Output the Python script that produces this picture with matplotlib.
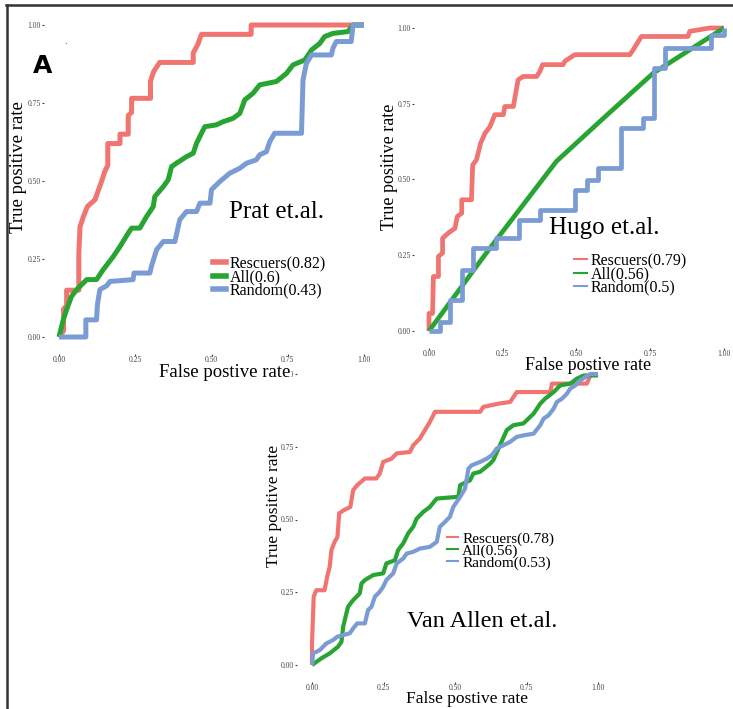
import matplotlib.pyplot as plt
from matplotlib.lines import Line2D

# ---- Prat et.al. ----
prat_resc_x = [0, 0.015, 0.015, 0.025, 0.025, 0.065, 0.065, 0.069, 0.08, 0.093, 0.118, 0.14, 0.15, 0.16, 0.16, 0.20,
               0.20, 0.227, 0.227, 0.238, 0.238, 0.30, 0.30, 0.31, 0.33, 0.44, 0.44, 0.456, 0.467, 0.63, 0.63, 1.0]
prat_resc_y = [0, 0.02, 0.09, 0.10, 0.15, 0.15, 0.27, 0.354, 0.386, 0.418, 0.44, 0.50, 0.53, 0.55, 0.62, 0.62,
               0.65, 0.65, 0.71, 0.72, 0.765, 0.765, 0.82, 0.85, 0.88, 0.88, 0.91, 0.94, 0.97, 0.97, 1.0, 1.0]
prat_all_x = [0, 0.014, 0.025, 0.041, 0.058, 0.091, 0.123, 0.145, 0.178, 0.20, 0.227, 0.238, 0.265, 0.287, 0.309,
              0.314, 0.342, 0.358, 0.369, 0.385, 0.418, 0.44, 0.451, 0.467, 0.478, 0.516, 0.538, 0.571, 0.593, 0.609,
              0.636, 0.658, 0.713, 0.746, 0.767, 0.806, 0.828, 0.855, 0.871, 0.898, 0.948, 0.964, 1.0]
prat_all_y = [0, 0.055, 0.088, 0.13, 0.152, 0.184, 0.184, 0.216, 0.258, 0.29, 0.333, 0.349, 0.349, 0.386, 0.418,
              0.45, 0.482, 0.504, 0.546, 0.557, 0.578, 0.589, 0.621, 0.653, 0.674, 0.68, 0.69, 0.701, 0.717, 0.76,
              0.781, 0.808, 0.819, 0.845, 0.872, 0.888, 0.92, 0.941, 0.963, 0.973, 0.979, 1.0, 1.0]
prat_rand_x = [0, 0.088, 0.088, 0.123, 0.126, 0.134, 0.156, 0.167, 0.243, 0.246, 0.298, 0.303, 0.32, 0.342, 0.38,
               0.396, 0.418, 0.451, 0.462, 0.495, 0.50, 0.527, 0.56, 0.593, 0.615, 0.647, 0.658, 0.68, 0.691, 0.707,
               0.795, 0.80, 0.811, 0.828, 0.893, 0.898, 0.909, 0.958, 0.964, 1.0]
prat_rand_y = [0, 0, 0.055, 0.055, 0.104, 0.152, 0.164, 0.178, 0.184, 0.205, 0.205, 0.226, 0.28, 0.306, 0.306,
               0.376, 0.402, 0.402, 0.429, 0.429, 0.472, 0.498, 0.525, 0.541, 0.557, 0.568, 0.584, 0.594, 0.626, 0.653,
               0.653, 0.824, 0.877, 0.904, 0.904, 0.925, 0.947, 0.947, 1.0, 1.0]

# ---- Hugo et.al. ----
hugo_resc_x = [0, 0, 0.012, 0.015, 0.032, 0.032, 0.046, 0.046, 0.065, 0.088, 0.096, 0.111, 0.111, 0.144, 0.148,
               0.161, 0.175, 0.19, 0.207, 0.223, 0.252, 0.257, 0.286, 0.291, 0.302, 0.319, 0.365, 0.376, 0.385, 0.455,
               0.46, 0.494, 0.681, 0.692, 0.72, 0.878, 0.884, 0.951, 1.0]
hugo_resc_y = [0, 0.058, 0.058, 0.18, 0.18, 0.246, 0.257, 0.306, 0.323, 0.339, 0.378, 0.389, 0.433, 0.433, 0.548,
               0.565, 0.62, 0.653, 0.675, 0.714, 0.714, 0.741, 0.741, 0.769, 0.829, 0.84, 0.84, 0.857, 0.879, 0.879,
               0.89, 0.912, 0.912, 0.928, 0.972, 0.972, 0.989, 1.0, 1.0]
hugo_all_x = [0, 0.2, 0.432, 0.6, 0.76, 1.0]
hugo_all_y = [0, 0.265, 0.56, 0.71, 0.851, 1.0]
hugo_rand_x = [0, 0.037, 0.037, 0.071, 0.071, 0.111, 0.111, 0.15, 0.15, 0.227, 0.227, 0.306, 0.306, 0.376, 0.376,
               0.494, 0.494, 0.534, 0.534, 0.573, 0.573, 0.652, 0.652, 0.726, 0.726, 0.762, 0.762, 0.799, 0.799,
               0.957, 0.957, 1.0, 1.0]
hugo_rand_y = [0, 0, 0.031, 0.031, 0.102, 0.102, 0.2, 0.2, 0.273, 0.273, 0.306, 0.306, 0.367, 0.367, 0.4, 0.4,
               0.466, 0.466, 0.499, 0.499, 0.537, 0.537, 0.67, 0.67, 0.703, 0.703, 0.868, 0.868, 0.934, 0.934, 0.978,
               0.978, 1.0]

# ---- Van Allen et.al. ----
van_resc_x = [0, 0, 0.006, 0.015, 0.044, 0.053, 0.062, 0.068, 0.079, 0.089, 0.095, 0.111, 0.134, 0.144, 0.158,
              0.185, 0.225, 0.237, 0.249, 0.278, 0.296, 0.342, 0.354, 0.377, 0.391, 0.412, 0.43, 0.588, 0.599, 0.652,
              0.693, 0.716, 0.833, 0.839, 0.961, 0.973, 1.0]
van_resc_y = [0, 0.074, 0.235, 0.257, 0.257, 0.303, 0.338, 0.395, 0.423, 0.44, 0.521, 0.532, 0.543, 0.601, 0.618,
              0.641, 0.641, 0.658, 0.698, 0.709, 0.727, 0.732, 0.755, 0.778, 0.801, 0.835, 0.87, 0.87, 0.887, 0.898,
              0.904, 0.938, 0.938, 0.967, 0.967, 0.995, 1.0]
van_all_x = [0, 0.033, 0.062, 0.091, 0.103, 0.109, 0.126, 0.144, 0.167, 0.173, 0.185, 0.214, 0.249, 0.26, 0.29,
             0.301, 0.319, 0.336, 0.354, 0.366, 0.389, 0.412, 0.436, 0.512, 0.518, 0.553, 0.564, 0.588, 0.623, 0.634,
             0.681, 0.704, 0.739, 0.775, 0.798, 0.815, 0.845, 0.868, 0.903, 0.926, 0.95, 1.0]
van_all_y = [0, 0.023, 0.04, 0.063, 0.08, 0.132, 0.2, 0.223, 0.246, 0.28, 0.292, 0.309, 0.315, 0.349, 0.36, 0.395,
             0.418, 0.452, 0.475, 0.503, 0.526, 0.543, 0.572, 0.578, 0.618, 0.635, 0.658, 0.664, 0.692, 0.704, 0.807,
             0.824, 0.83, 0.864, 0.898, 0.915, 0.938, 0.961, 0.967, 0.984, 0.995, 0.995]
van_rand_x = [0, 0.004, 0.027, 0.05, 0.074, 0.088, 0.132, 0.144, 0.158, 0.185, 0.196, 0.208, 0.22, 0.237, 0.249,
              0.26, 0.284, 0.296, 0.319, 0.331, 0.354, 0.377, 0.412, 0.436, 0.447, 0.459, 0.482, 0.494, 0.518, 0.535,
              0.547, 0.558, 0.588, 0.611, 0.629, 0.646, 0.669, 0.693, 0.716, 0.739, 0.775, 0.798, 0.81, 0.827, 0.845,
              0.856, 0.874, 0.891, 0.903, 0.921, 0.938, 0.956, 0.973, 1.0]
van_rand_y = [0, 0.04, 0.051, 0.074, 0.086, 0.097, 0.109, 0.126, 0.143, 0.143, 0.189, 0.2, 0.235, 0.252, 0.269,
              0.292, 0.315, 0.349, 0.366, 0.383, 0.389, 0.4, 0.406, 0.423, 0.475, 0.486, 0.509, 0.543, 0.578, 0.606,
              0.675, 0.686, 0.698, 0.709, 0.721, 0.744, 0.755, 0.767, 0.784, 0.789, 0.795, 0.824, 0.847, 0.858, 0.881,
              0.904, 0.915, 0.932, 0.95, 0.961, 0.978, 0.99, 1.0, 1.0]

ticks = [0, 0.25, 0.5, 0.75, 1.0]
tick_labels = ["0.00", "0.25", "0.50", "0.75", "1.00"]
series_names = ["Rescuers", "All", "Random"]
prat_auc = ["0.82", "0.6", "0.43"]
hugo_auc = ["0.79", "0.56", "0.5"]
van_auc = ["0.78", "0.56", "0.53"]

RED = "#F07470"
GREEN = "#27A432"
BLUE = "#7B9BD4"
SERIF = "Liberation Serif"

W, H = 733, 709
fig = plt.figure(figsize=(W / 100, H / 100), dpi=100)


def make_axes(left, top, right, bottom):
    return fig.add_axes([left / W, 1 - bottom / H, (right - left) / W, (bottom - top) / H])


def style(ax, labsize, xlab_pos, ylab_pos):
    ax.set_xlim(0, 1)
    ax.set_ylim(0, 1)
    ax.patch.set_alpha(0)
    for s in ax.spines.values():
        s.set_visible(False)
    ax.spines['left'].set_position(('outward', 11))
    ax.spines['bottom'].set_position(('outward', 12))
    ax.set_xticks(ticks)
    ax.set_yticks(ticks)
    ax.set_xticklabels(tick_labels, fontfamily=SERIF)
    ax.set_yticklabels(tick_labels, fontfamily=SERIF)
    ax.tick_params(length=1.5, width=0.8, pad=0.5, labelsize=5.5, colors="#444444")
    ax.set_xlabel("False postive rate", fontfamily=SERIF, fontsize=labsize)
    ax.set_ylabel("True positive rate", fontfamily=SERIF, fontsize=labsize)
    ax.xaxis.set_label_coords(*xlab_pos)
    ax.yaxis.set_label_coords(*ylab_pos)


def draw(ax, xs, ys, lw):
    for x, y, c in zip(xs, ys, [RED, GREEN, BLUE]):
        ax.plot(x, y, color=c, lw=lw, clip_on=False, solid_capstyle='butt')


def legend(ax, auc, x, y, size, hlw, hl, spacing):
    handles = [Line2D([], [], color=c, lw=hlw) for c in [RED, GREEN, BLUE]]
    labels = [n + "(" + a + ")" for n, a in zip(series_names, auc)]
    ax.legend(handles, labels, loc="upper left", bbox_to_anchor=(x / W, 1 - y / H),
              bbox_transform=fig.transFigure, frameon=False, borderpad=0, borderaxespad=0,
              handlelength=hl, handletextpad=0.25, labelspacing=spacing,
              prop={'family': SERIF, 'size': size})


################################################################################
# Prat et.al.
ax1 = make_axes(59, 25, 364, 337)
ax1.set_zorder(3)
style(ax1, 13.5, (0.544, -0.087), (-0.105, 0.545))
draw(ax1, [prat_resc_x, prat_all_x, prat_rand_x], [prat_resc_y, prat_all_y, prat_rand_y], 3.6)
ax1.xaxis.label.set_bbox(dict(facecolor="white", edgecolor="none", pad=0))
ax1.text(0.557, 0.381, "Prat et.al.", transform=ax1.transAxes, fontfamily=SERIF, fontsize=18)
legend(ax1, prat_auc, 213, 256, 11.5, 4, 0.8, -0.17)

################################################################################
# Hugo et.al.
ax2 = make_axes(429, 28, 724, 331)
ax2.set_zorder(2)
style(ax2, 13, (0.539, -0.087), (-0.105, 0.541))
draw(ax2, [hugo_resc_x, hugo_all_x, hugo_rand_x], [hugo_resc_y, hugo_all_y, hugo_rand_y], 3.4)
ax2.text(0.407, 0.32, "Hugo et.al.", transform=ax2.transAxes, fontfamily=SERIF, fontsize=18)
legend(ax2, hugo_auc, 574, 253, 11.5, 1.5, 0.8, -0.17)

################################################################################
# Van Allen et.al.
ax3 = make_axes(312, 374, 598, 665)
ax3.set_zorder(1)
style(ax3, 12.5, (0.542, -0.089), (-0.105, 0.546))
draw(ax3, [van_resc_x, van_all_x, van_rand_x], [van_resc_y, van_all_y, van_rand_y], 3.0)
ax3.text(0.332, 0.13, "Van Allen et.al.", transform=ax3.transAxes, fontfamily=SERIF, fontsize=17.5)
legend(ax3, van_auc, 447, 532, 11, 1.5, 0.75, -0.12)

# panel letter, stray dot and frame
fig.text(33 / W, 1 - 73 / H, "A", fontsize=18, fontweight="bold", fontfamily="DejaVu Sans")
fig.text(65 / W, 1 - 44 / H, ".", fontsize=6, ha="center")
fig.add_artist(Line2D([7 / W, 7 / W], [0, 1 - 5 / H], color="#333333", lw=1.8))
fig.add_artist(Line2D([6 / W, 1], [1 - 5 / H, 1 - 5 / H], color="#333333", lw=1.8))

plt.savefig("out.png", dpi=100)
